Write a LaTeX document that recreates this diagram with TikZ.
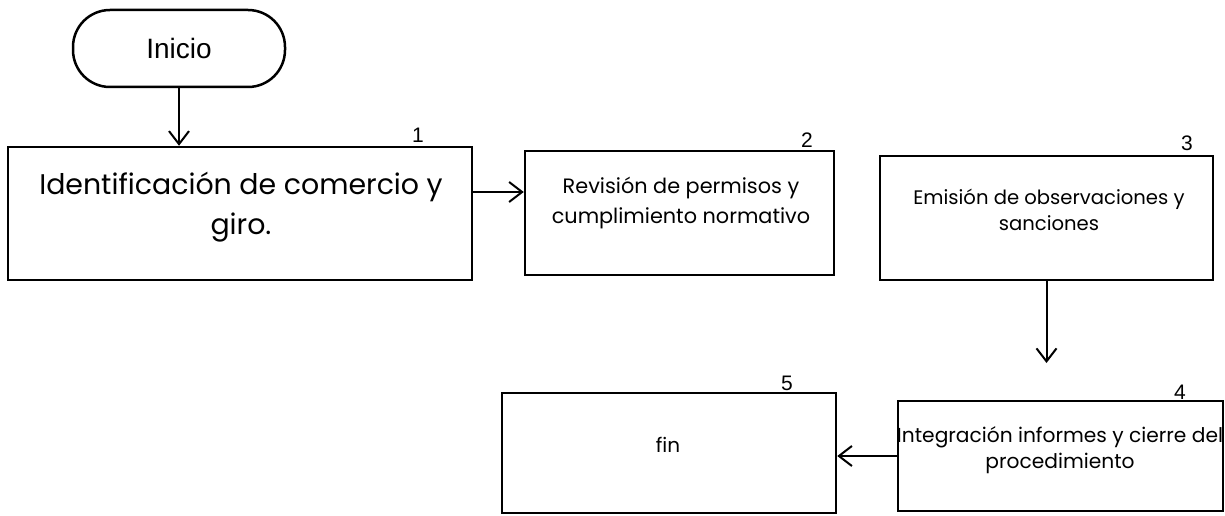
\documentclass[tikz,border=0pt]{standalone}
\usepackage{fontspec}
\setmainfont{Poppins}
\newfontfamily\arialf{Liberation Sans}
\usetikzlibrary{arrows.meta}
\tikzset{
  boxshape/.style={draw, line width=2.5pt, rectangle, inner sep=0pt},
  boxtext/.style={align=center, inner sep=0pt, font=\fontsize{20}{27}\selectfont},
  numlabel/.style={inner sep=0pt, font=\arialf\fontsize{21}{22}\selectfont},
  arr/.style={line width=2pt, -{Straight Barb[length=13pt,width=20pt,line width=2pt]}},
}
\begin{document}
\begin{tikzpicture}[x=1pt,y=-1pt]
\useasboundingbox[fill=white] (0,0) rectangle (1225,516);

% start
\node[boxshape, rounded corners=37pt, minimum width=212pt, minimum height=77pt,
      font=\arialf\fontsize{28}{30}\selectfont] (inicio) at (179,48.5) {Inicio};

% boxes
\node[boxshape, minimum width=464pt, minimum height=133pt] (box1) at (240,213.5) {};
\node[boxshape, minimum width=309pt, minimum height=124pt] (box2) at (679.5,213) {};
\node[boxshape, minimum width=333pt, minimum height=124pt] (box3) at (1046.5,218) {};
\node[boxshape, minimum width=325pt, minimum height=110pt] (box4) at (1060.5,456) {};
\node[boxshape, minimum width=334pt, minimum height=120pt] (box5) at (669,453) {};

% texts
\node[boxtext, font=\fontsize{28.4}{40}\selectfont] (t1) at (241,207) {Identificación de comercio y\\giro.};
\node[boxtext, font=\fontsize{20.8}{30}\selectfont] (t2) at (681,203) {Revisión de permisos y\\cumplimiento normativo};
\node[boxtext, font=\fontsize{19.6}{26}\selectfont] (t3) at (1049,210) {Emisión de observaciones y\\sanciones};
\node[boxtext, font=\fontsize{20.2}{26}\selectfont] (t4) at (1060,450) {Integración informes y cierre del\\procedimiento};
\node[boxtext] (t5) at (668,445) {fin};

% numbers
\node[numlabel] (n1) at (418,135) {1};
\node[numlabel] (n2) at (807,140) {2};
\node[numlabel] (n3) at (1187,143) {3};
\node[numlabel] (n4) at (1180,392) {4};
\node[numlabel] (n5) at (787,383) {5};

% connectors
\coordinate (e34) at (1046.5,363);
\draw[arr] (inicio.south) -- (inicio.south |- box1.north);
\draw[arr] ([yshift=21.5pt]box1.east) -- ([yshift=21pt]box2.west);
\draw[arr] (box3.south) -- (e34);
\draw[arr] (box4.west) -- (box5.east |- box4.west);
\end{tikzpicture}
\end{document}
